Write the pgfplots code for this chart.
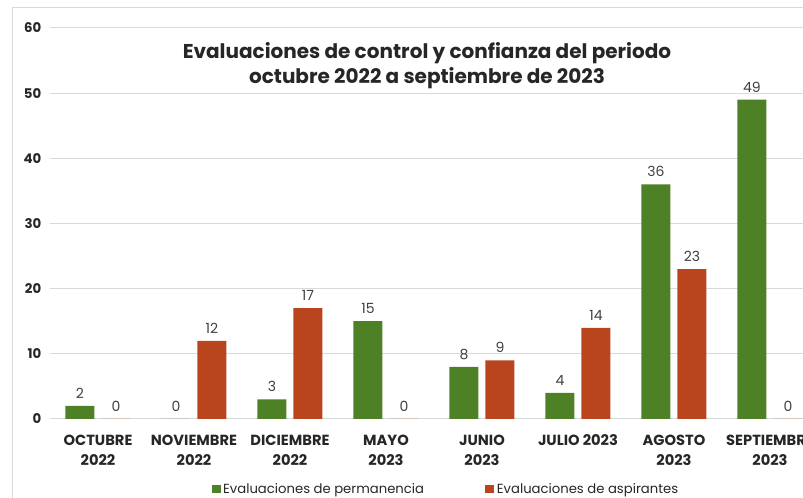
\documentclass[border=0pt]{standalone}
\usepackage{fontspec}
\setmainfont{Poppins}
\usepackage{pgfplots}
\pgfplotsset{compat=1.18}
\definecolor{cgreen}{RGB}{78,128,38}
\definecolor{cred}{RGB}{184,69,30}
\definecolor{txt}{RGB}{38,38,38}
\definecolor{lbl}{RGB}{64,64,64}
\definecolor{gridc}{RGB}{217,217,217}
\begin{document}
\begin{tikzpicture}
\useasboundingbox (-37.5pt,-59.25pt) rectangle (564.75pt,314.25pt);
\clip (-37.5pt,-59.25pt) rectangle (564.75pt,314.25pt);
\draw[gridc, line width=0.75pt] (-27.75pt,-100pt) rectangle (700pt,308.25pt);
\begin{axis}[
  scale only axis, width=576pt, height=293.25pt,
  xmin=-0.5, xmax=7.5, ymin=0, ymax=60,
  ytick={0,10,...,60},
  xtick={0,...,7},
  xticklabels={{OCTUBRE\\2022},{NOVIEMBRE\\2022},{DICIEMBRE\\2022},{MAYO\\2023},{JUNIO\\2023},{JULIO 2023},{AGOSTO\\2023},{SEPTIEMBRE\\2023}},
  xticklabel style={align=center, anchor=north, font=\bfseries\fontsize{11}{15}\selectfont, text=txt, yshift=-4pt},
  yticklabel style={font=\bfseries\fontsize{10}{12}\selectfont, text=txt, xshift=-3pt},
  /pgf/number format/assume math mode=true,
  axis line style={draw=none},
  tick style={draw=none},
  ymajorgrids, major grid style={gridc, line width=0.75pt},
  ybar=5.25pt, bar width=21.75pt,
  nodes near coords,
  nodes near coords style={font=\fontsize{10.5}{12}\selectfont, text=lbl, yshift=2pt},
  clip=false,
  legend style={at={(0.516,-0.179)}, anchor=center, draw=none, fill=none, legend columns=2,
    font=\fontsize{9.9}{12}\selectfont, text=txt,
    /tikz/every even column/.append style={column sep=44pt}},
  legend image code/.code={\fill[#1] (0pt,-3.3pt) rectangle (6.6pt,3.3pt);},
]
\addplot[fill=cgreen, draw=none] coordinates {(0,2) (1,0) (2,3) (3,15) (4,8) (5,4) (6,36) (7,49)};
\addplot[fill=cred, draw=none] coordinates {(0,0) (1,12) (2,17) (3,0) (4,9) (5,14) (6,23) (7,0)};
\legend{Evaluaciones de permanencia, Evaluaciones de aspirantes}
\end{axis}
\node[align=center, font=\bfseries\fontsize{15}{18.75}\selectfont, text=txt] at (282.75pt,265pt) {Evaluaciones de control y confianza del periodo\\octubre 2022 a septiembre de 2023};
\end{tikzpicture}
\end{document}
